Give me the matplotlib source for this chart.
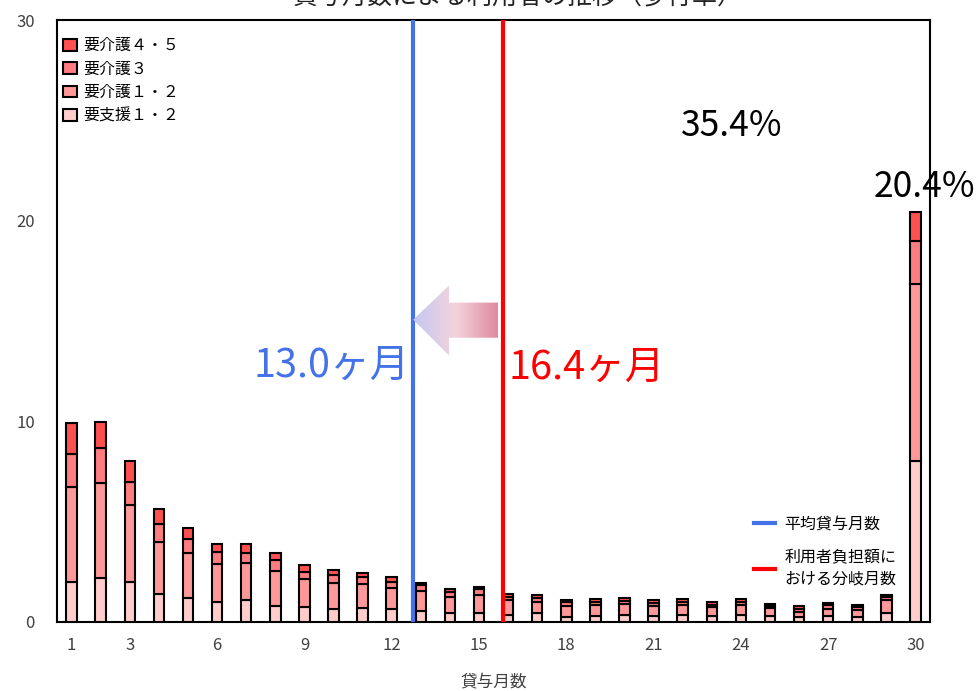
import numpy as np
import matplotlib.pyplot as plt
from matplotlib.patches import Polygon
from matplotlib.colors import LinearSegmentedColormap
from matplotlib.lines import Line2D

plt.rcParams['font.family'] = ['Noto Sans CJK JP', 'DejaVu Sans']

# データ（貸与月数ごとの利用者割合 %）
months = np.arange(1, 31)
shien12 = [2.00, 2.17, 2.00, 1.40, 1.18, 0.98, 1.08, 0.80, 0.75, 0.65,
           0.68, 0.63, 0.55, 0.45, 0.45, 0.33, 0.42, 0.25, 0.28, 0.33,
           0.28, 0.33, 0.28, 0.33, 0.28, 0.22, 0.28, 0.25, 0.42, 7.99]
kaigo12 = [4.74, 4.77, 3.81, 2.58, 2.25, 1.90, 1.87, 1.73, 1.38, 1.28,
           1.19, 1.07, 1.00, 0.80, 0.88, 0.75, 0.56, 0.53, 0.55, 0.54,
           0.50, 0.49, 0.44, 0.50, 0.39, 0.28, 0.37, 0.33, 0.66, 8.87]
kaigo3 = [1.62, 1.70, 1.18, 0.90, 0.71, 0.58, 0.48, 0.54, 0.37, 0.40,
          0.35, 0.27, 0.28, 0.25, 0.29, 0.17, 0.22, 0.19, 0.17, 0.18,
          0.14, 0.16, 0.11, 0.17, 0.11, 0.12, 0.17, 0.14, 0.17, 2.11]
kaigo45 = [1.54, 1.33, 1.00, 0.76, 0.54, 0.42, 0.45, 0.34, 0.32, 0.27,
           0.20, 0.26, 0.12, 0.12, 0.13, 0.12, 0.12, 0.13, 0.15, 0.13,
           0.16, 0.14, 0.14, 0.12, 0.12, 0.16, 0.13, 0.13, 0.08, 1.45]
series_names = ['要支援１・２', '要介護１・２', '要介護３', '要介護４・５']
series_colors = ['#FFCCCC', '#FF9999', '#FF7C80', '#FF5050']

avg_month = 12.74      # 平均貸与月数 13.0ヶ月
branch_month = 15.83   # 分岐月数 16.4ヶ月
xticks = [1, 3, 6, 9, 12, 15, 18, 21, 24, 27, 30]

fig = plt.figure(figsize=(9.78, 6.91), dpi=100)
ax = fig.add_axes([0.0583, 0.1003, 0.8927, 0.8707])

bottom = np.zeros(len(months))
bars = []
for vals, name, col in zip([shien12, kaigo12, kaigo3, kaigo45], series_names, series_colors):
    b = ax.bar(months, vals, width=0.36, bottom=bottom, color=col,
               edgecolor='black', linewidth=1.5, label=name, zorder=3)
    bars.append(b)
    bottom += np.array(vals)

ax.axvline(avg_month, color='#4472E8', linewidth=3, zorder=4)
ax.axvline(branch_month, color='#FF0000', linewidth=3, zorder=4)

# グラデーションの矢印
arrow_pts = [(12.74, 15.06), (13.97, 16.76), (13.97, 15.91), (15.66, 15.91),
             (15.66, 14.16), (13.97, 14.16), (13.97, 13.27)]
poly = Polygon(arrow_pts, closed=True, facecolor='none', edgecolor='none')
ax.add_patch(poly)
cmap = LinearSegmentedColormap.from_list('arr', ['#C3C8F2', '#F3D3DD', '#E08A9E'])
grad = np.linspace(0, 1, 256).reshape(1, -1)
im = ax.imshow(grad, cmap=cmap, extent=[12.74, 15.66, 13.27, 16.76],
               aspect='auto', zorder=5)
im.set_clip_path(poly)

ax.text(12.63, 12.75, '13.0ヶ月', color='#4472E8', fontsize=28.5, ha='right', va='center')
ax.text(16.0, 12.65, '16.4ヶ月', color='#FF0000', fontsize=28.5, ha='left', va='center')
ax.text(23.7, 24.7, '35.4%', color='black', fontsize=25.5, ha='center', va='center')
ax.text(30.3, 21.65, '20.4%', color='black', fontsize=25.5, ha='center', va='center',
        clip_on=False)

ax.set_xlim(0.5, 30.5)
ax.set_ylim(0, 30)
ax.set_xticks(xticks)
ax.set_yticks([0, 10, 20, 30])
ax.tick_params(axis='both', length=0, labelsize=12, colors='#404040')
ax.tick_params(axis='y', pad=16)
ax.tick_params(axis='x', pad=11)
for s in ax.spines.values():
    s.set_linewidth(1.5)
    s.set_color('black')
ax.set_xlabel('貸与月数', fontsize=12, color='#404040', labelpad=14)

handles = [bars[3], bars[2], bars[1], bars[0]]
leg1 = ax.legend(handles, [series_names[3], series_names[2], series_names[1], series_names[0]],
                 loc='upper left', bbox_to_anchor=(-0.006, 0.99), frameon=False,
                 fontsize=11.5, handlelength=0.9, handleheight=0.75,
                 labelspacing=0.4, handletextpad=0.4, borderaxespad=0.3)
ax.add_artist(leg1)

line_handles = [Line2D([0], [0], color='#4472E8', linewidth=3),
                Line2D([0], [0], color='#FF0000', linewidth=3)]
leg2 = ax.legend(line_handles, ['平均貸与月数', '利用者負担額に\nおける分岐月数'],
                 loc='lower right', bbox_to_anchor=(0.978, 0.033), frameon=False,
                 fontsize=11.5, handlelength=1.3, handletextpad=0.6, labelspacing=1.0)
leg2.get_texts()[1].set_linespacing(1.35)

fig.text(517 / 978, 1.003, '貸与月数による利用者の推移（歩行車）', fontsize=18,
         ha='center', va='center', color='#222222')

fig.savefig('out.png', dpi=100)
